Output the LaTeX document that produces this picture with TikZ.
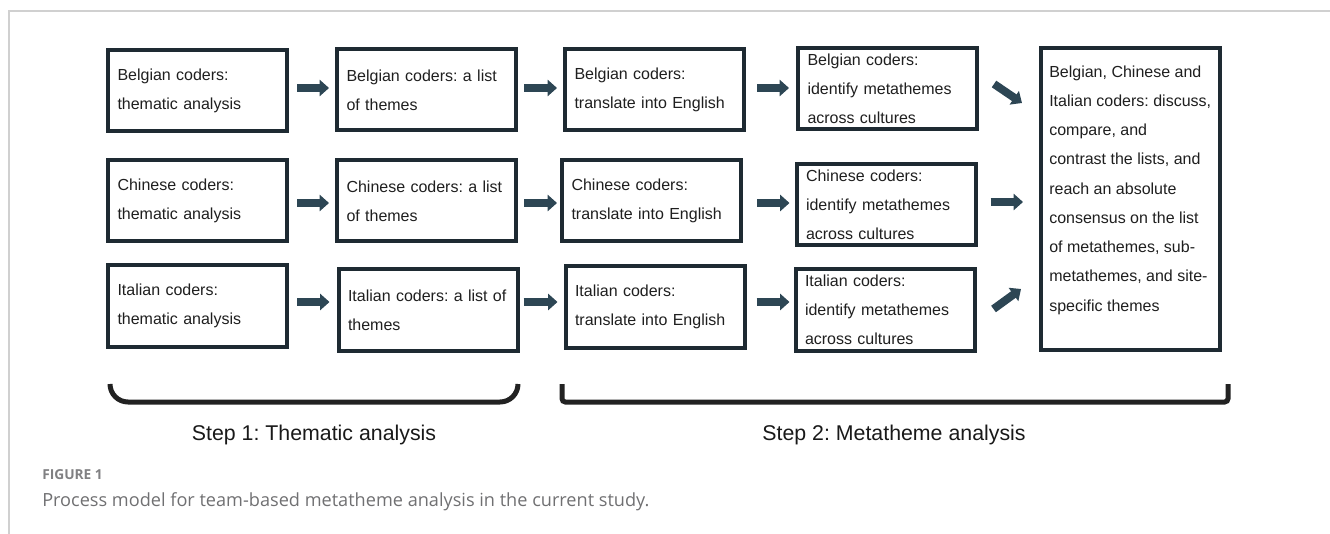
\documentclass[tikz,border=0pt]{standalone}
\usepackage{fontspec}
\setmainfont{Liberation Sans}
\newfontfamily\capfont{Open Sans}
\usetikzlibrary{arrows.meta,calc}
\definecolor{boxline}{RGB}{30,42,50}
\definecolor{arrowc}{RGB}{45,70,84}
\definecolor{brk}{RGB}{34,34,34}
\definecolor{framec}{RGB}{208,208,208}
\definecolor{capc}{RGB}{112,112,114}
\definecolor{figc}{RGB}{128,128,130}
\frenchspacing
\begin{document}
\begin{tikzpicture}[x=0.75pt,y=-0.75pt,
  box/.style={draw=boxline, line width=3pt, fill=white, rectangle,
    minimum width=134.25pt, minimum height=60.75pt, text width=120pt,
    inner xsep=7.1pt, inner ysep=0pt, align=left, text=black!88,
    font=\fontsize{12}{21.75}\selectfont},
  bigbox/.style={draw=boxline, line width=3pt, fill=white, rectangle,
    minimum width=134.25pt, minimum height=226.5pt, inner sep=0pt},
  bigtext/.style={inner sep=0pt, align=left, text=black!88,
    font=\fontsize{12}{21.94}\selectfont},
  blk/.style={draw=arrowc, line width=6pt, -{Triangle[length=7pt,width=12pt]}},
  brace/.style={draw=brk, line width=3.75pt},
  steplabel/.style={inner sep=0pt, anchor=base, text=black!90,
    font=\fontsize{16}{19}\selectfont}
]
\useasboundingbox (0,0) rectangle (1330,534);
% frame
\draw[framec, line width=1.1pt] (9,534) -- (9,11) -- (1330,11);

% row 1
\node[box] (b1) at (197.5,91)   {Belgian coders:\\thematic analysis};
\node[box] (b2) at (426.5,90)   {Belgian coders: a list\\of themes};
\node[box] (b3) at (654.5,89.5) {Belgian coders:\\translate into English};
\node[box] (b4) at (887.5,89)   {Belgian coders:\\identify metathemes\\across cultures};
% row 2
\node[box] (c1) at (197.5,201) {Chinese coders:\\thematic analysis};
\node[box] (c2) at (426.5,201) {Chinese coders: a list\\of themes};
\node[box] (c3) at (651.5,201) {Chinese coders:\\translate into English};
\node[box] (c4) at (886,205)   {Chinese coders:\\identify metathemes\\across cultures};
% row 3
\node[box] (i1) at (197.5,306) {Italian coders:\\thematic analysis};
\node[box] (i2) at (428,310)   {Italian coders: a list of\\themes};
\node[box] (i3) at (655,307)   {Italian coders:\\translate into English};
\node[box] (i4) at (885,310)   {Italian coders:\\identify metathemes\\across cultures};
% final box
\node[bigbox] (big) at (1130.5,199) {};
\node[bigtext, anchor=west] (bigt) at (1049,190) {Belgian, Chinese and\\Italian coders: discuss,\\compare, and\\contrast the lists, and\\reach an absolute\\consensus on the list\\of metathemes, sub-\\metathemes, and site-\\specific themes};

% arrows row 1
\draw[blk, shorten <=6pt, shorten >=4.5pt] (b1.east |- 0,88) -- (b2.west |- 0,88);
\draw[blk, shorten <=4.5pt, shorten >=4.5pt] (b2.east |- 0,88) -- (b3.west |- 0,88);
\draw[blk, shorten <=8.25pt, shorten >=5.25pt] (b3.east |- 0,88) -- (b4.west |- 0,88);
% arrows row 2
\draw[blk, shorten <=6pt, shorten >=4.5pt] (c1.east |- 0,203) -- (c2.west |- 0,203);
\draw[blk, shorten <=4.5pt, shorten >=2.25pt] (c2.east |- 0,203) -- (c3.west |- 0,203);
\draw[blk, shorten <=10.5pt, shorten >=3.75pt] (c3.east |- 0,203) -- (c4.west |- 0,203);
% arrows row 3
\draw[blk, shorten <=6pt, shorten >=5.25pt] (i1.east |- 0,302) -- (i2.west |- 0,302);
\draw[blk, shorten <=3pt, shorten >=4.5pt] (i2.east |- 0,302) -- (i3.west |- 0,302);
\draw[blk, shorten <=7.5pt, shorten >=3pt] (i3.east |- 0,302) -- (i4.west |- 0,302);
% arrows into final box
\draw[blk] ($(b4.east)+(15,-5)$) -- ($(big.west)+(-17,-96)$);
\draw[blk, shorten <=9.75pt, shorten >=12pt] (c4.east |- 0,202) -- (big.west |- 0,202);
\draw[blk] ($(i4.east)+(17,-1)$) -- ($(big.west)+(-18,90)$);

% brackets
\draw[brace, rounded corners=13.5pt] (110,384) -- (110,402) -- (518,402) -- (518,384);
\draw[brace, rounded corners=2.5pt] (562,384) -- (562,402) -- (1228,402) -- (1228,384);
\node[steplabel] (s1) at (314,440) {Step 1: Thematic analysis};
\node[steplabel] (s2) at (894,440) {Step 2: Metatheme analysis};

% caption
\node[anchor=base west, inner sep=0pt, text=figc, font=\capfont\bfseries\fontsize{10.3}{12}\selectfont] (fig) at (42,479) {FIGURE 1};
\node[anchor=base west, inner sep=0pt, text=capc, font=\capfont\fontsize{13.6}{16}\selectfont] (cap) at (42,506) {Process model for team-based metatheme analysis in the current study.};
\end{tikzpicture}
\end{document}
